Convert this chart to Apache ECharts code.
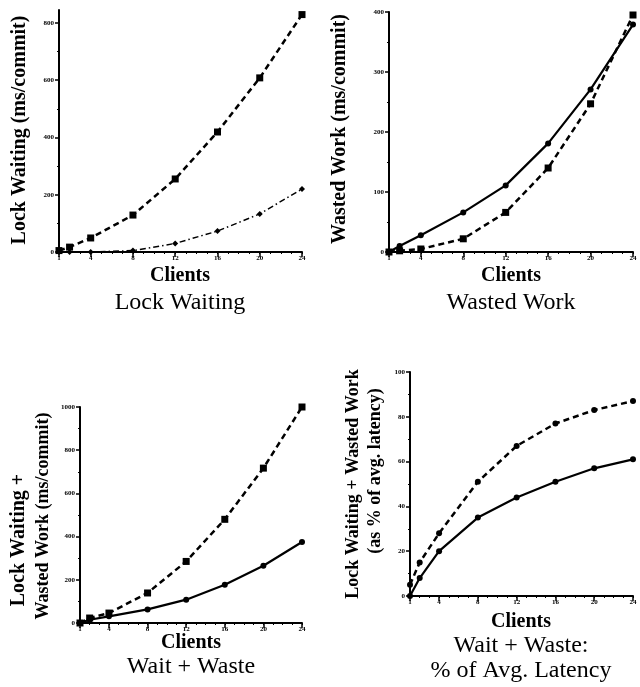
<!DOCTYPE html>
<html>
<head>
<meta charset="utf-8">
<script src="https://cdn.jsdelivr.net/npm/echarts@6/dist/echarts.min.js"></script>
<style>
html,body{margin:0;padding:0;background:#fff;}
#chart{width:640px;height:687px;}
</style>
</head>
<body>
<div id="chart"></div>
<script>
// ---- data ----
var clients = [1, 2, 4, 8, 12, 16, 20, 24];
var xTickValues = [1, 4, 8, 12, 16, 20, 24];
var xMinorValues = [1,2,3,4,5,6,7,8,9,10,11,12,13,14,15,16,17,18,19,20,21,22,23,24];

var lockWaitDashed = [5, 17, 49, 129, 255, 419, 608, 829];
var lockWaitDashDot = [0, 0, 0, 5, 30, 73, 133, 220];

var wastedSolid = [0, 10, 28, 66, 111, 181, 271, 379];
var wastedDashed = [0, 2, 5, 22, 66, 140, 247, 395];

var totalDashed = [0, 23, 46, 139, 285, 480, 717, 1000];
var totalSolid = [0, 15, 31, 63, 108, 177, 265, 375];

var pctDashed = [5, 15, 28, 51, 67, 77, 83, 87];
var pctSolid = [0, 8, 20, 35, 44, 51, 57, 61];

var yTicks1 = [0, 200, 400, 600, 800];
var yTicks2 = [0, 100, 200, 300, 400];
var yTicks3 = [0, 200, 400, 600, 800, 1000];
var yTicks4 = [0, 20, 40, 60, 80, 100];

function pairs(ys) { return clients.map(function (c, i) { return [c, ys[i]]; }); }
function mids(t) { var r = []; for (var i = 0; i < t.length - 1; i++) r.push((t[i] + t[i + 1]) / 2); return r; }
function plain(v) { return String(v); }

var serif = '"Liberation Serif", "DejaVu Serif", serif';
var grids = [
  {left: 59, right: 338, top: 10, bottom: 435},
  {left: 389, right: 7, top: 12, bottom: 435},
  {left: 80, right: 338, top: 407, bottom: 64},
  {left: 410, right: 7, top: 372, bottom: 91}
];
var yMax = [845, 400, 1000, 100];
var yTicks = [yTicks1, yTicks2, yTicks3, yTicks4];

var xAxes = [], yAxes = [];
grids.forEach(function (g, i) {
  xAxes.push({
    type: 'value', gridIndex: i, min: 1, max: 24, position: 'bottom',
    axisLine: {show: true, lineStyle: {color: '#000', width: 2}},
    axisTick: {show: true, customValues: xTickValues, length: 5, lineStyle: {color: '#000', width: 1.5}},
    axisLabel: {show: true, customValues: xTickValues, formatter: plain, fontSize: 7, fontWeight: 'bold', fontFamily: serif, color: '#000', margin: 3},
    splitLine: {show: false}
  });
  xAxes.push({
    type: 'value', gridIndex: i, min: 1, max: 24, position: 'bottom',
    axisLine: {show: false},
    axisTick: {show: true, customValues: xMinorValues, length: 2, lineStyle: {color: '#000', width: 1}},
    axisLabel: {show: false},
    splitLine: {show: false}
  });
  yAxes.push({
    type: 'value', gridIndex: i, min: 0, max: yMax[i], position: 'left',
    axisLine: {show: true, lineStyle: {color: '#000', width: 2}},
    axisTick: {show: true, customValues: yTicks[i], length: 4, lineStyle: {color: '#000', width: 1.5}},
    axisLabel: {show: true, customValues: yTicks[i], formatter: plain, fontSize: 7, fontWeight: 'bold', fontFamily: serif, color: '#000', margin: 5},
    splitLine: {show: false}
  });
  yAxes.push({
    type: 'value', gridIndex: i, min: 0, max: yMax[i], position: 'left',
    axisLine: {show: false},
    axisTick: {show: true, customValues: mids(yTicks[i]), length: 2, lineStyle: {color: '#000', width: 1}},
    axisLabel: {show: false},
    splitLine: {show: false}
  });
});

function ser(gi, data, kind, symbol, size) {
  var ls = {color: '#000'};
  if (kind === 'dashed') { ls.type = [6, 4]; ls.width = 2.5; }
  else if (kind === 'dashdot') { ls.type = [6, 3, 1.5, 3]; ls.width = 1.5; }
  else { ls.type = 'solid'; ls.width = 2.2; }
  return {
    type: 'line', xAxisIndex: gi * 2, yAxisIndex: gi * 2, data: pairs(data),
    symbol: symbol, symbolSize: size, showSymbol: true, clip: false,
    itemStyle: {color: '#000'}, lineStyle: ls, animation: false, z: 5
  };
}

var series = [
  ser(0, lockWaitDashed, 'dashed', 'rect', 7),
  ser(0, lockWaitDashDot, 'dashdot', 'diamond', 6),
  ser(1, wastedSolid, 'solid', 'circle', 6),
  ser(1, wastedDashed, 'dashed', 'rect', 7),
  ser(2, totalDashed, 'dashed', 'rect', 7),
  ser(2, totalSolid, 'solid', 'circle', 6),
  ser(3, pctDashed, 'dashed', 'circle', 6),
  ser(3, pctSolid, 'solid', 'circle', 6)
];

function txt(x, y, s, size, bold, rot) {
  return {
    type: 'text', x: x, y: y, rotation: rot ? Math.PI / 2 : 0,
    style: {text: s, font: (bold ? 'bold ' : '') + size + 'px ' + serif, fill: '#000', align: 'center', verticalAlign: 'middle'},
    z: 10
  };
}

var graphics = [
  txt(20, 130, 'Lock Waiting (ms/commit)', 20, true, true),
  txt(340, 129, 'Wasted Work (ms/commit)', 20, true, true),
  txt(19, 540, 'Lock Waiting +', 20, true, true),
  txt(43, 516, 'Wasted Work (ms/commit)', 18, true, true),
  txt(353, 484, 'Lock Waiting + Wasted Work', 18, true, true),
  txt(375, 471, '(as % of avg. latency)', 18, true, true),
  txt(180, 276, 'Clients', 20, true, false),
  txt(180, 303, 'Lock Waiting', 24, false, false),
  txt(511, 276, 'Clients', 20, true, false),
  txt(511, 303, 'Wasted Work', 24, false, false),
  txt(191, 643, 'Clients', 20, true, false),
  txt(191, 667, 'Wait + Waste', 24, false, false),
  txt(521, 622, 'Clients', 20, true, false),
  txt(521, 646, 'Wait + Waste:', 24, false, false),
  txt(521, 671, '% of Avg. Latency', 24, false, false)
];

var chart = echarts.init(document.getElementById('chart'), null, {renderer: 'canvas'});
chart.setOption({
  backgroundColor: '#fff',
  animation: false,
  grid: grids,
  xAxis: xAxes,
  yAxis: yAxes,
  series: series,
  graphic: graphics
});
</script>
</body>
</html>
